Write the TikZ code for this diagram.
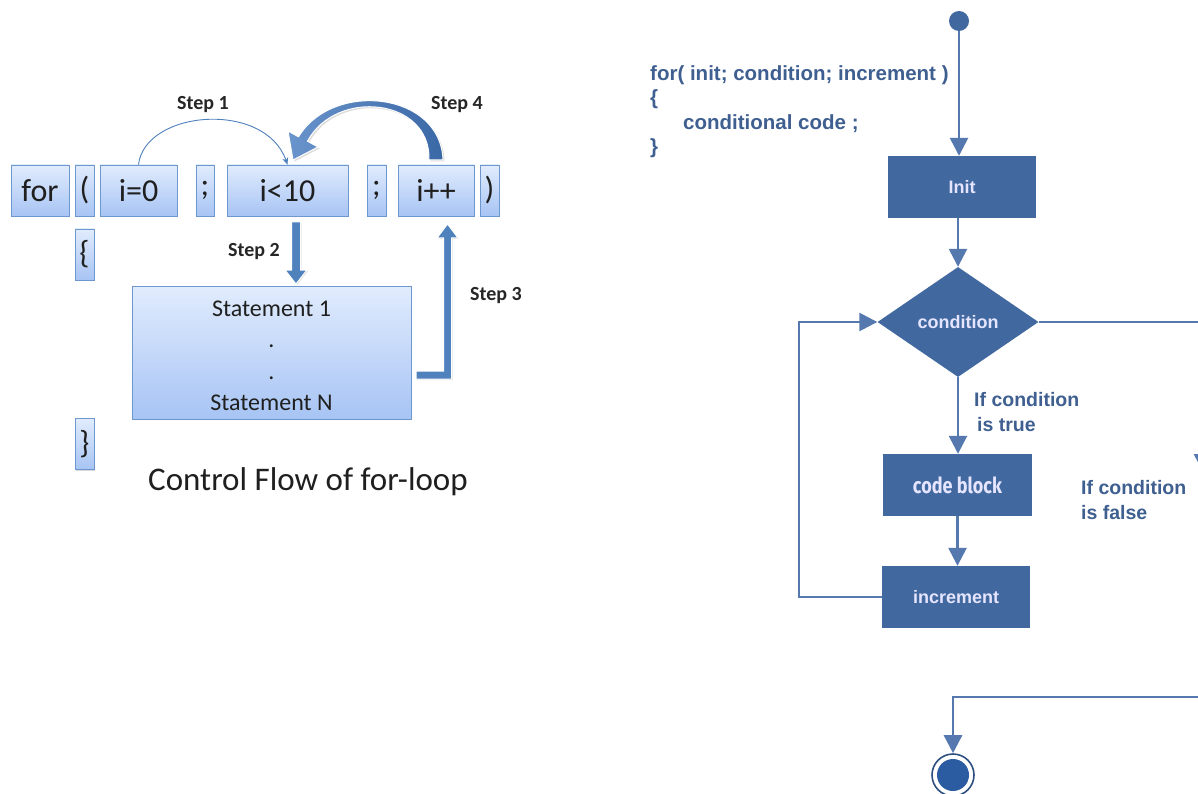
\documentclass[tikz,border=0pt]{standalone}
\usepackage{fontspec}
\setmainfont{Carlito}
\newfontfamily\arialfont{Liberation Sans}
\newfontfamily\condfont[FakeStretch=0.82]{Fira Sans}
\usetikzlibrary{arrows.meta,shapes.geometric,shadows,calc}

\definecolor{boxtop}{HTML}{E1ECFD}
\definecolor{boxbot}{HTML}{A7C4F4}
\definecolor{boxedge}{HTML}{6E97D0}
\definecolor{officeblue}{HTML}{4F81BD}
\definecolor{darkarrow}{HTML}{3A68A6}
\definecolor{lightarrow}{HTML}{6A94CC}
\definecolor{flowfill}{HTML}{41699F}
\definecolor{flowline}{HTML}{5578AF}
\definecolor{flowtext}{HTML}{3E5F90}
\definecolor{ringedge}{HTML}{2D4F80}
\definecolor{endfill}{HTML}{2B5BA0}

% outline of the curved "Step 4" arrow
\def\curvedarrowpath{(443,160) .. controls (441,92) and (333,80) .. (298.5,136.8)
  -- (288,131) -- (293,160) -- (318,147) -- (307.5,141.2)
  .. controls (336,88) and (431,98) .. (429,160) -- cycle}

\begin{document}
\begin{tikzpicture}[x=1pt,y=-1pt,
  lbox/.style={draw=boxedge, line width=0.8pt, top color=boxtop, bottom color=boxbot,
    minimum height=51pt, inner sep=0pt, text=black!88,
    font=\fontsize{32}{32}\selectfont,
    drop shadow={shadow xshift=1.3pt, shadow yshift=-1.3pt, opacity=0.3}},
  steplbl/.style={font=\bfseries\fontsize{20}{20}\selectfont, text=black!85, inner sep=0pt},
  blockarrow/.style={fill=officeblue, draw=white, line width=1pt,
    drop shadow={shadow xshift=1pt, shadow yshift=-1pt, opacity=0.25}},
  flowbox/.style={fill=flowfill, minimum width=148pt, minimum height=62pt, inner sep=0pt,
    text=white!90!blue, font=\arialfont\bfseries\fontsize{18}{18}\selectfont},
  flow/.style={draw=flowline, line width=2.6pt, -{Triangle[length=18pt,width=18pt]}},
  lbl/.style={font=\arialfont\bfseries\fontsize{19.5}{25}\selectfont, text=flowtext,
    align=left, inner sep=0pt, anchor=north west}
]
\useasboundingbox (0,0) rectangle (1198,794);
\clip (0,0) rectangle (1198,794);
\fill[white] (0,0) rectangle (1198,794);

% ---------- left: the parts of a for statement ----------
\node[lbox, minimum width=58pt]  (kw)  at (40,190.5)   {for};
\node[lbox, minimum width=19pt]  (lp)  at (84.5,190.5) {(};
\node[lbox, minimum width=77pt]  (ini) at (138.5,190.5) {i=0};
\node[lbox, minimum width=18pt]  (sc1) at (205,190.5)  {;};
\node[lbox, minimum width=121pt] (cmp) at (287.5,190.5) {i<10};
\node[lbox, minimum width=19pt]  (sc2) at (376.5,190.5) {;};
\node[lbox, minimum width=76pt]  (upd) at (436,190.5)  {i++};
\node[lbox, minimum width=19pt]  (rp)  at (489.5,190.5) {)};
\node[lbox, minimum width=19pt]  (lb)  at (84.5,254.5) {\{};
\node[lbox, minimum width=19pt]  (rb)  at (84.5,444)   {\}};
\node[lbox, minimum width=279pt, minimum height=133pt, align=center,
      font=\fontsize{24}{31.5}\selectfont] (stmt) at (271.5,352.5)
      {\rule{0pt}{22pt}Statement 1\\.\\.\\Statement N};

% step 1: thin arc from the initialisation to the test
\draw[officeblue, line width=0.9pt, -{Stealth[length=7pt,width=6pt]}]
  (ini.north) .. controls (145,110) and (265,100) .. (cmp.north);

% step 2: block arrow from the test into the body
\coordinate (s2top) at (296,222);
\coordinate (s2tip) at (296,284);
\path[blockarrow] ($(s2top)+(-4.5,0)$) -- ($(s2top)+(4.5,0)$) -- ($(s2tip)+(4.5,-14)$)
  -- ($(s2tip)+(11,-14)$) -- (s2tip) -- ($(s2tip)+(-11,-14)$) -- ($(s2tip)+(-4.5,-14)$) -- cycle;

% step 3: elbow arrow from the body up to the increment
\coordinate (s3start) at (416,371);
\coordinate (s3tip) at (447.5,224);
\path[blockarrow] (s3start) -- (443.5,371) -- (443.5,238) -- (437,238) -- (s3tip)
  -- (458,238) -- (451.5,238) -- (451.5,379) -- (416,379) -- cycle;

% step 4: curved arrow from the increment back to the test
\fill[black!30, opacity=0.45, shift={(1.5,1.5)}] \curvedarrowpath;
\shade[left color=lightarrow, right color=darkarrow, draw=white, line width=1pt] \curvedarrowpath;

\node[steplbl] (l1) at (203,105) {Step 1};
\node[steplbl] (l4) at (457,105) {Step 4};
\node[steplbl] (l2) at (254,252) {Step 2};
\node[steplbl] (l3) at (496,296) {Step 3};

\node[font=\fontsize{33}{33}\selectfont, text=black!88, inner sep=0pt] (title)
  at (308,482) {Control Flow of for-loop};

% ---------- right: flowchart ----------
\node[lbl, font=\arialfont\bfseries\fontsize{20.5}{24.5}\selectfont] (code) at (650,65)
  {for( init; condition; increment )\\\{\\\hspace*{33pt}conditional code ;\\\}};

\node[circle, fill=flowfill, minimum size=20pt, inner sep=0pt] (start) at (959,21) {};
\node[flowbox] (init) at (962,187) {Init};
\node[diamond, fill=flowfill, minimum width=161pt, minimum height=110pt, inner sep=0pt,
      text=white!90!blue, font=\arialfont\bfseries\fontsize{18}{18}\selectfont] (cond)
      at (958,322) {condition};
\node[flowbox, minimum width=149pt, font=\condfont\bfseries\fontsize{22}{22}\selectfont] (blk)
      at (957.5,485) {code block};
\node[flowbox] (inc) at (956,597) {increment};
\node[circle, draw=ringedge, line width=1.6pt, fill=white, minimum size=42pt, inner sep=0pt]
      (stop) at (953,775) {};
\node[circle, fill=endfill, minimum size=32pt, inner sep=0pt] (stopdot) at (stop.center) {};

\draw[flow] (start.south) -- (start.south |- init.north);
\draw[flow] (cond.north |- init.south) -- (cond.north);
\draw[flow] (cond.south) -- (cond.south |- blk.north);
\draw[flow] (blk.south) -- (blk.south |- inc.north);
\draw[flow] (inc.west) -- ++(-83,0) |- (cond.west);

\coordinate (falsedown) at (1203,472);
\coordinate (exitline) at (1203,697);
\draw[flow] (cond.east) -| (falsedown);
\draw[flow] (exitline) -| (stop.north);

\node[lbl] (ltrue) at (974,392) {If condition\\\hspace*{3pt}is true};
\node[lbl] (lfalse) at (1081,480) {If condition\\is false};
\end{tikzpicture}
\end{document}
